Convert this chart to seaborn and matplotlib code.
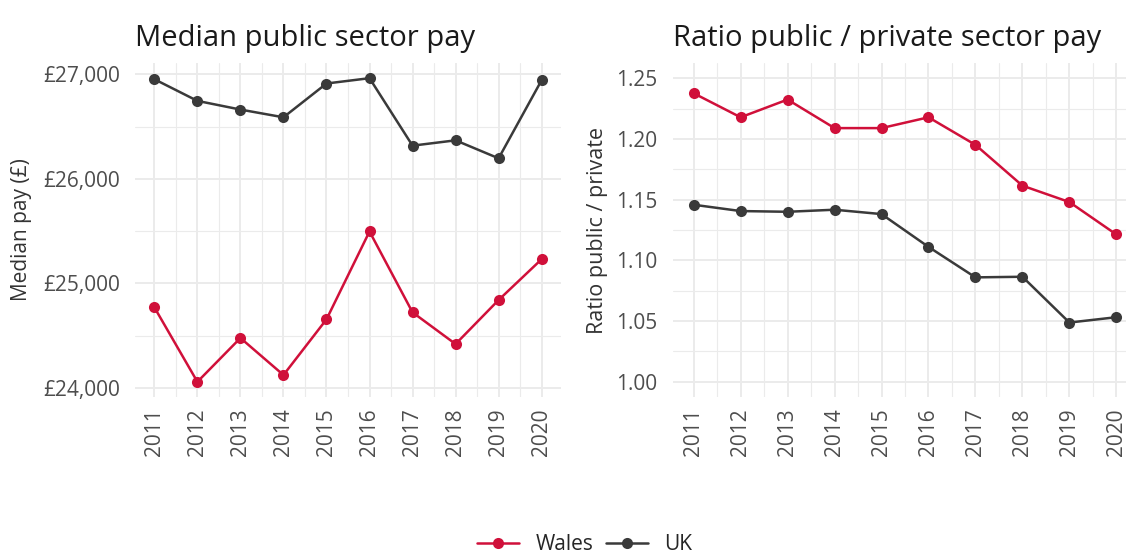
import matplotlib
matplotlib.use("Agg")
import matplotlib.pyplot as plt
import matplotlib.ticker as mticker
from matplotlib.lines import Line2D
import pandas as pd
import seaborn as sns

# data
years = [2011, 2012, 2013, 2014, 2015, 2016, 2017, 2018, 2019, 2020]
wales_pay = [24772, 24060, 24479, 24125, 24657, 25497, 24724, 24421, 24842, 25232]
uk_pay = [26952, 26745, 26662, 26588, 26911, 26962, 26317, 26368, 26196, 26943]
wales_ratio = [1.2376, 1.2178, 1.2324, 1.2089, 1.2089, 1.2178, 1.1951, 1.1615, 1.1480, 1.1213]
uk_ratio = [1.1458, 1.1406, 1.1400, 1.1417, 1.1381, 1.1111, 1.0860, 1.0865, 1.0488, 1.0532]
areas = ["Wales", "UK"]
colours = {"Wales": "#D0103A", "UK": "#3A3A3A"}

pay = pd.DataFrame({"year": years * 2,
                    "area": ["Wales"] * len(years) + ["UK"] * len(years),
                    "value": wales_pay + uk_pay})
ratio = pd.DataFrame({"year": years * 2,
                      "area": ["Wales"] * len(years) + ["UK"] * len(years),
                      "value": wales_ratio + uk_ratio})

sns.set_theme(style="white")
plt.rcParams["font.family"] = ["Open Sans", "DejaVu Sans"]

W, H = 1126, 555
fig = plt.figure(figsize=(W / 100, H / 100), dpi=100)
top, bottom = 63, 397
ax1 = fig.add_axes([135 / W, 1 - bottom / H, (561 - 135) / W, (bottom - top) / H])
ax2 = fig.add_axes([672.5 / W, 1 - bottom / H, (1137.5 - 672.5) / W, (bottom - top) / H])

for ax, df in [(ax1, pay), (ax2, ratio)]:
    sns.lineplot(data=df, x="year", y="value", hue="area", hue_order=areas,
                 palette=colours, marker="o", markersize=8, markeredgewidth=0,
                 linewidth=1.8, legend=False, ax=ax)
    ax.set_xlim(2011 - 0.45, 2020 + 0.45)
    ax.set_xticks(years)
    ax.set_xticklabels([str(y) for y in years], rotation=90)
    ax.xaxis.set_minor_locator(mticker.MultipleLocator(0.5))
    ax.grid(which="major", color="#EBEBEB", linewidth=1.4)
    ax.grid(which="minor", color="#EBEBEB", linewidth=0.8)
    ax.set_axisbelow(True)
    for s in ax.spines.values():
        s.set_visible(False)
    ax.tick_params(which="both", length=0, labelsize=15, labelcolor="#4D4D4D")
    ax.tick_params(axis="x", pad=8)
    ax.tick_params(axis="y", pad=11)
    ax.set_xlabel("")

ax1.set_ylim(23915, 27107)
ax1.set_yticks([24000, 25000, 26000, 27000])
ax1.yaxis.set_minor_locator(mticker.MultipleLocator(500))
ax1.yaxis.set_major_formatter(mticker.FuncFormatter(lambda v, p: "£{:,.0f}".format(v)))
ax1.set_ylabel("Median pay (£)", fontsize=15, color="#333333")
ax1.yaxis.set_label_coords(-0.242, 0.5)
ax1.set_title("Median public sector pay", loc="left", fontsize=21, pad=12, color="#1A1A1A")

ax2.set_ylim(0.9875, 1.2625)
ax2.set_yticks([1.00, 1.05, 1.10, 1.15, 1.20, 1.25])
ax2.yaxis.set_minor_locator(mticker.MultipleLocator(0.025))
ax2.yaxis.set_major_formatter(mticker.FormatStrFormatter("%.2f"))
ax2.set_ylabel("Ratio public / private", fontsize=15.5, color="#333333")
ax2.yaxis.set_label_coords(-0.139, 0.5)
ax2.set_title("Ratio public / private sector pay", loc="left", fontsize=21, pad=12, color="#1A1A1A")

handles = [Line2D([0], [0], color=colours[a], marker="o", markersize=8,
                  markeredgewidth=0, linewidth=1.8) for a in areas]
fig.legend(handles, areas, loc="center", bbox_to_anchor=(585 / W, 1 - 545 / H),
           ncol=2, frameon=False, fontsize=15, handlelength=2.0,
           columnspacing=0.6, handletextpad=0.8)

fig.savefig("out.png", dpi=100)
